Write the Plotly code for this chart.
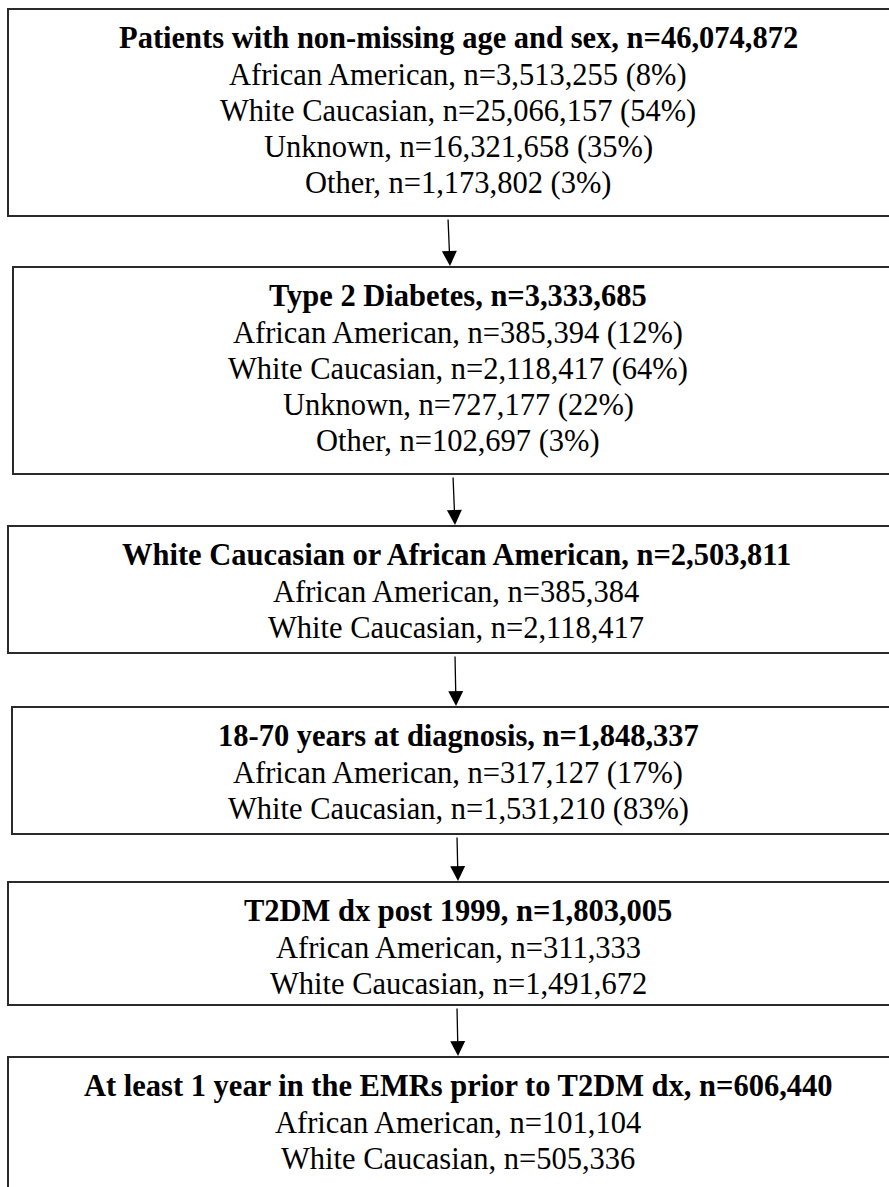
import plotly.graph_objects as go

# ---- data ----
titles = [
    "Patients with non-missing age and sex, n=46,074,872",
    "Type 2 Diabetes, n=3,333,685",
    "White Caucasian or African American, n=2,503,811",
    "18-70 years at diagnosis, n=1,848,337",
    "T2DM dx post 1999, n=1,803,005",
    "At least 1 year in the EMRs prior to T2DM dx, n=606,440",
]
details = [
    ["African American, n=3,513,255 (8%)",
     "White Caucasian, n=25,066,157 (54%)",
     "Unknown, n=16,321,658 (35%)",
     "Other, n=1,173,802 (3%)"],
    ["African American, n=385,394 (12%)",
     "White Caucasian, n=2,118,417 (64%)",
     "Unknown, n=727,177 (22%)",
     "Other, n=102,697 (3%)"],
    ["African American, n=385,384",
     "White Caucasian, n=2,118,417"],
    ["African American, n=317,127 (17%)",
     "White Caucasian, n=1,531,210 (83%)"],
    ["African American, n=311,333",
     "White Caucasian, n=1,491,672"],
    ["African American, n=101,104",
     "White Caucasian, n=505,336"],
]

# ---- layout geometry (pixels, y downward) ----
W, H = 889, 1187
box_left = [8, 13, 8, 12, 8, 8]
box_top = [9, 267, 526, 707, 882, 1057]
box_bottom = [216, 474, 653, 834, 1005, 1200]
box_right = 915
text_cx = [458, 458, 456, 458, 458, 458]
title_off = 29
first_line_off = 66
line_gap = 36
arrow_x_start = [448, 453, 455, 457, 457]
arrow_x_end = [450, 455, 456, 458, 458]

FONT = "Liberation Serif"
FS_TITLE = 30.5
FS_LINE = 30.5

fig = go.Figure()
fig.add_trace(go.Scatter(x=[0, W], y=[0, H], mode="markers",
                         marker=dict(opacity=0), hoverinfo="skip", showlegend=False))

shapes = []
annotations = []
for i in range(len(titles)):
    shapes.append(dict(type="rect", xref="x", yref="y",
                       x0=box_left[i], x1=box_right, y0=box_top[i], y1=box_bottom[i],
                       line=dict(color="#2a2a2a", width=2), fillcolor="rgba(0,0,0,0)"))
    annotations.append(dict(x=text_cx[i], y=box_top[i] + title_off, xref="x", yref="y",
                            text="<b>" + titles[i] + "</b>", showarrow=False,
                            xanchor="center", yanchor="middle",
                            font=dict(family=FONT, size=FS_TITLE, color="black")))
    for j, t in enumerate(details[i]):
        annotations.append(dict(x=text_cx[i], y=box_top[i] + first_line_off + line_gap * j,
                                xref="x", yref="y", text=t, showarrow=False,
                                xanchor="center", yanchor="middle",
                                font=dict(family=FONT, size=FS_LINE, color="black")))

for i in range(len(titles) - 1):
    annotations.append(dict(x=arrow_x_end[i], y=box_top[i + 1] - 1, xref="x", yref="y",
                            ax=arrow_x_start[i], ay=box_bottom[i] + 2, axref="x", ayref="y",
                            text="", showarrow=True, arrowhead=2, arrowsize=2.3,
                            arrowwidth=1.3, arrowcolor="black", standoff=0, startstandoff=0))

fig.update_layout(
    width=W, height=H, margin=dict(l=0, r=0, t=0, b=0),
    paper_bgcolor="white", plot_bgcolor="white",
    xaxis=dict(range=[0, W], visible=False, fixedrange=True),
    yaxis=dict(range=[H, 0], visible=False, fixedrange=True),
    shapes=shapes, annotations=annotations, showlegend=False,
)
fig.write_html("out.html", config={"displayModeBar": False},
               post_script="document.body.style.margin='0';document.body.style.overflow='hidden';")
